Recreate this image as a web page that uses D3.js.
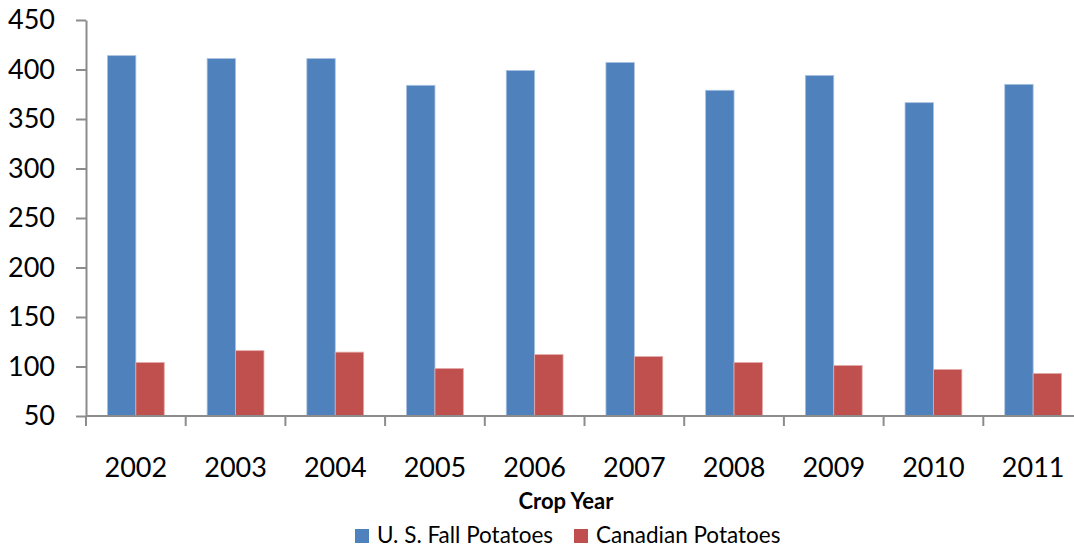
<!DOCTYPE html>
<html>
<head>
<meta charset="utf-8">
<script src="https://cdn.jsdelivr.net/npm/d3@7"></script>
<style>
  body { margin: 0; background: #fff; }
  svg { display: block; font-family: Lato, "Open Sans", sans-serif; }
</style>
</head>
<body>
<div id="chart"></div>
<script>
// crop years and the two series
var years = ['2002', '2003', '2004', '2005', '2006', '2007', '2008', '2009', '2010', '2011'];
var seriesNames = ['U. S. Fall Potatoes', 'Canadian Potatoes'];
var usFall = [414, 411, 411, 384, 399, 407, 379, 394, 366.5, 385];
var canadian = [104, 116, 114.5, 98, 112, 110, 104, 101, 97, 93];
var yTicks = [50, 100, 150, 200, 250, 300, 350, 400, 450];
var colors = ['#4f81bd', '#c0504d'];
var strokes = ['#a9c1e0', '#e3aaa8'];

var width = 1074, height = 547;
var plotLeft = 86, plotTop = 20, plotBottom = 416;

var svg = d3.select('#chart').append('svg')
  .attr('width', width)
  .attr('height', height);

var x0 = d3.scaleBand().domain(years).range([plotLeft, plotLeft + 99.7 * years.length]).padding(0);
var x1 = d3.scaleBand().domain(seriesNames).range([0, x0.bandwidth()]).paddingInner(0).paddingOuter(0.755);
var y = d3.scaleLinear().domain([50, 450]).range([plotBottom, plotTop]);

var rows = years.map(function(yr, i) {
  return { year: yr, values: [usFall[i], canadian[i]] };
});

// bars
var groups = svg.append('g').selectAll('g')
  .data(rows)
  .enter().append('g')
  .attr('transform', function(d) { return 'translate(' + x0(d.year) + ',0)'; });

groups.selectAll('rect')
  .data(function(d) { return d.values.map(function(v, j) { return { name: seriesNames[j], value: v, j: j }; }); })
  .enter().append('rect')
  .attr('x', function(d) { return x1(d.name); })
  .attr('y', function(d) { return y(d.value); })
  .attr('width', x1.bandwidth())
  .attr('height', function(d) { return plotBottom - y(d.value); })
  .attr('fill', function(d) { return colors[d.j]; })
  .attr('stroke', function(d) { return strokes[d.j]; })
  .attr('stroke-width', 0.8);

// y axis
var yAxis = svg.append('g')
  .attr('transform', 'translate(' + plotLeft + ',0)')
  .call(d3.axisLeft(y).tickValues(yTicks).tickSize(10).tickPadding(21).tickSizeOuter(0));
yAxis.attr('font-family', null).attr('font-size', null);
yAxis.select('.domain').attr('stroke', '#8c8c8c').attr('stroke-width', 2);
yAxis.selectAll('.tick line').attr('stroke', '#8c8c8c').attr('stroke-width', 2);
yAxis.selectAll('.tick text')
  .attr('fill', '#000')
  .style('font-size', '27px');

// x axis: line, ticks between categories, labels at centres
var xAxis = svg.append('g').attr('class', 'x-axis');
xAxis.append('line')
  .attr('x1', x0.range()[0]).attr('x2', x0.range()[1])
  .attr('y1', plotBottom).attr('y2', plotBottom)
  .attr('stroke', '#8c8c8c').attr('stroke-width', 2);

var bounds = years.map(function(yr) { return x0(yr); }).concat([x0.range()[1]]);
xAxis.selectAll('line.tk')
  .data(bounds)
  .enter().append('line')
  .attr('class', 'tk')
  .attr('x1', function(d) { return d; }).attr('x2', function(d) { return d; })
  .attr('y1', plotBottom).attr('y2', plotBottom + 10)
  .attr('stroke', '#8c8c8c').attr('stroke-width', 2);

xAxis.selectAll('text')
  .data(years)
  .enter().append('text')
  .attr('x', function(d) { return x0(d) + x0.bandwidth() / 2; })
  .attr('y', 477)
  .attr('text-anchor', 'middle')
  .style('font-size', '27px')
  .text(function(d) { return d; });

// axis title
svg.append('text')
  .attr('x', 566)
  .attr('y', 509)
  .attr('text-anchor', 'middle')
  .style('font-size', '22px')
  .style('font-weight', 'bold')
  .text('Crop Year');

// legend
var legendX = [355, 574];
var legend = svg.append('g').selectAll('g')
  .data(seriesNames)
  .enter().append('g')
  .attr('transform', function(d, i) { return 'translate(' + legendX[i] + ',529)'; });
legend.append('rect')
  .attr('width', 14).attr('height', 14)
  .attr('fill', function(d, i) { return colors[i]; });
legend.append('text')
  .attr('x', 22)
  .attr('y', 14)
  .style('font-size', '22.5px')
  .text(function(d) { return d; });
</script>
</body>
</html>
